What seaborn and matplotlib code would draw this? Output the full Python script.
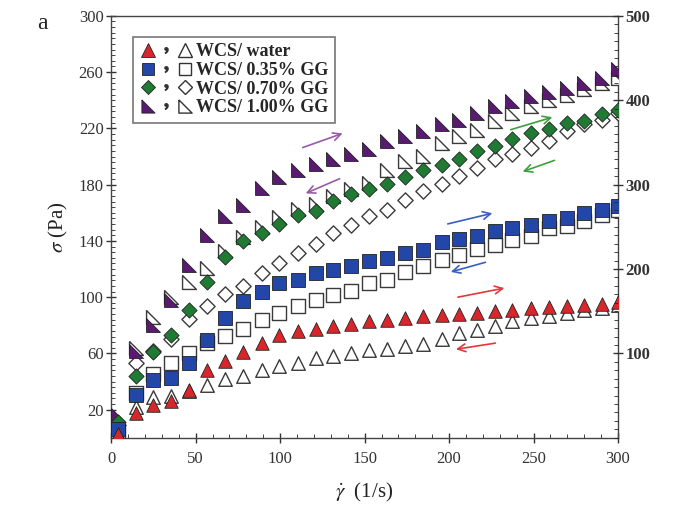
import matplotlib
matplotlib.use("Agg")
import matplotlib.pyplot as plt
from matplotlib.ticker import MultipleLocator, FixedLocator
from matplotlib.lines import Line2D
from matplotlib.legend_handler import HandlerTuple
import seaborn as sns

# shear rate (1/s), shared by all curves
shear_rate = [4, 14.5, 25, 35.5, 46, 56.5, 67.5, 78, 89, 99.5, 110.5, 121, 131.5, 142,
              152.5, 163, 174, 184.5, 195.5, 206, 216.5, 227, 237.5, 248.5, 259, 269.5,
              280, 290.5, 300]

# shear stress (Pa): up curve (filled) and down curve (open)
water_up = [3, 17.6, 23.5, 25.8, 33.7, 47.9, 54.3, 60.7, 67.4, 73.3, 75.7, 77.4, 79.2, 81.0,
            82.8, 84.0, 85.4, 86.8, 87.5, 88.3, 88.9, 89.9, 90.6, 92.3, 93.0, 94.0, 94.7,
            95.4, 96.3]
water_down = [3, 21.8, 28.7, 29.4, 33.5, 37.7, 42.0, 44.1, 47.9, 50.7, 53.1, 56.7, 57.9, 60.3,
              62.6, 63.1, 65.0, 66.9, 70.2, 74.5, 76.9, 79.7, 82.8, 85.2, 86.8, 88.7, 90.6,
              92.5, 94.5]
gg035_up = [6, 30.6, 41.3, 42.5, 53.2, 69.8, 85.2, 97.0, 103.4, 110.0, 112.5, 117.2, 119.6,
            122.0, 125.5, 127.9, 131.5, 133.8, 139.0, 141.4, 143.8, 146.8, 149.3, 151.6,
            154.0, 156.4, 160.0, 162.3, 165.1]
gg035_down = [5, 32, 45.6, 53.2, 60.3, 67.4, 72.1, 77.4, 84.0, 88.7, 93.5, 98.2, 101.8, 104.1,
              110.0, 112.5, 117.7, 121.9, 126.7, 130.2, 134.3, 137.4, 140.4, 143.3, 149.3,
              150.4, 154.0, 158.7, 162.0]
gg070_up = [11, 44.1, 60.7, 73.3, 90.6, 110.5, 128.6, 139.7, 145.7, 152.3, 158.7, 161.1, 168.2,
            173.0, 177.0, 180.8, 185.6, 190.3, 194.3, 198.4, 203.8, 207.4, 212.1, 216.4,
            219.7, 223.5, 225.1, 229.9, 233.0]
gg070_down = [9, 53, 62, 70, 84.5, 93.5, 102.5, 107.7, 117.2, 124.3, 131.5, 138.1, 145.7, 151.6,
              157.5, 162.3, 169.4, 175.3, 180.1, 186.0, 192.0, 197.9, 202.1, 206.2, 210.9,
              218.0, 222.8, 226.3, 231.0]
gg100_up = [16, 62, 80, 98, 123, 144.5, 157.5, 165.8, 177.7, 185.6, 190.7, 195.0, 197.9, 202.1,
            205.5, 210.9, 214.5, 218.0, 222.8, 226.3, 230.6, 235.8, 239.4, 243.0, 246.0,
            249.0, 252.5, 256.0, 262.0]
gg100_down = [14, 64, 86, 100, 111, 121, 133, 143, 150, 157, 163, 166, 172, 177, 181, 190.7,
              196.7, 200.2, 209.7, 214.5, 219.2, 225.1, 231.0, 235.8, 240.0, 244.0, 248.0,
              252.4, 256.0]

labels = ["WCS/ water", "WCS/ 0.35% GG", "WCS/ 0.70% GG", "WCS/ 1.00% GG"]

sns.set_style("ticks")
plt.rcParams["font.family"] = ["Liberation Serif", "DejaVu Serif"]
plt.rcParams["mathtext.fontset"] = "stix"

corner = [(-1, 1), (-1, -1), (1, -1), (-1, 1)]  # right-angled triangle marker
series = [
    (gg100_up, gg100_down, corner, "#5b1a72", 100, 9.5, labels[3]),
    (gg070_up, gg070_down, "D", "#1f7a34", 60, 7.5, labels[2]),
    (gg035_up, gg035_down, "s", "#2347a8", 88, 9, labels[1]),
    (water_up, water_down, "^", "#d8262b", 95, 9.5, labels[0]),
]

fig = plt.figure(figsize=(6.74, 5.12), dpi=100)
ax = fig.add_axes([0.165, 0.145, 0.752, 0.824])

handles = {}
for up, down, mk, col, size, msz, lab in series:
    sns.scatterplot(x=shear_rate, y=down, marker=mk, color="white", edgecolor="#3a3a3a",
                    linewidth=1.0, s=size, ax=ax, legend=False, zorder=3)
    sns.scatterplot(x=shear_rate, y=up, marker=mk, color=col, edgecolor="#222222",
                    linewidth=0.6, s=size, ax=ax, legend=False, zorder=4)
    h_fill = Line2D([], [], ls="", marker=mk, markersize=msz, markerfacecolor=col,
                    markeredgecolor="#222222", markeredgewidth=0.6)
    h_comma = Line2D([], [], ls="", marker="$,$", markersize=4, color="#333333")
    h_open = Line2D([], [], ls="", marker=mk, markersize=msz, markerfacecolor="white",
                    markeredgecolor="#333333", markeredgewidth=1.0)
    handles[lab] = (h_fill, h_comma, h_open)

# flow direction arrows
arrows = [
    ((111.8, 205.7), (138.5, 217.1), "#9a5aa8"),
    ((136.7, 185.0), (113.6, 173.0), "#9a5aa8"),
    ((234.9, 218.5), (262.7, 228.5), "#3e9e3e"),
    ((263.9, 197.9), (242.0, 188.6), "#3e9e3e"),
    ((197.6, 151.6), (227.2, 160.1), "#3a5cc4"),
    ((223.1, 125.3), (199.4, 117.4), "#3a5cc4"),
    ((203.6, 99.6), (234.3, 106.8), "#e0383c"),
    ((229.0, 67.6), (202.4, 62.6), "#e0383c"),
]
for start, end, col in arrows:
    ax.annotate("", xy=end, xytext=start,
                arrowprops=dict(arrowstyle="->", color=col, lw=1.2, mutation_scale=14))

ax.set_xlim(0, 300)
ax.set_ylim(0, 300)
ax.xaxis.set_major_locator(MultipleLocator(50))
ax.xaxis.set_minor_locator(MultipleLocator(10))
ax.yaxis.set_major_locator(FixedLocator([20, 60, 100, 140, 180, 220, 260, 300]))
ax.yaxis.set_minor_locator(MultipleLocator(4))
ax.tick_params(axis="both", which="major", direction="inout", length=7, width=1.0,
               labelsize=12, colors="#333333", pad=2)
ax.tick_params(axis="both", which="minor", direction="in", length=3, width=0.6)
ax.tick_params(axis="x", which="major", pad=6)
for sp in ax.spines.values():
    sp.set_color("#444444")
    sp.set_linewidth(1.0)

ax2 = ax.twinx()
ax2.set_ylim(0, 500)
ax2.yaxis.set_major_locator(FixedLocator([100, 200, 300, 400, 500]))
ax2.yaxis.set_minor_locator(MultipleLocator(10))
ax2.tick_params(axis="y", which="major", direction="inout", length=7, width=1.0,
                labelsize=12, colors="#333333", pad=2)
ax2.tick_params(axis="y", which="minor", direction="in", length=3, width=0.6)
for lab in ax2.get_yticklabels():
    lab.set_fontweight("bold")
for sp in ax2.spines.values():
    sp.set_visible(False)

ax.set_xlabel(r"$\dot{\gamma}$  (1/s)", fontsize=15, color="#222222", labelpad=10)
ax.set_ylabel(r"$\sigma$ (Pa)", fontsize=15, color="#222222", labelpad=6)
fig.text(0.063, 0.955, "a", fontsize=17, color="#222222", ha="center", va="center")

leg = ax.legend([handles[l] for l in labels], labels,
                handler_map={tuple: HandlerTuple(ndivide=None, pad=0.05)},
                loc="upper left", bbox_to_anchor=(0.025, 0.972), handlelength=3.0,
                handletextpad=0.15, labelspacing=0.1, borderpad=0.35,
                frameon=True, fancybox=False, edgecolor="#555555",
                prop={"family": "Liberation Serif", "weight": "bold", "size": 13})
leg.get_frame().set_linewidth(1.2)

fig.savefig("out.png", dpi=100)
